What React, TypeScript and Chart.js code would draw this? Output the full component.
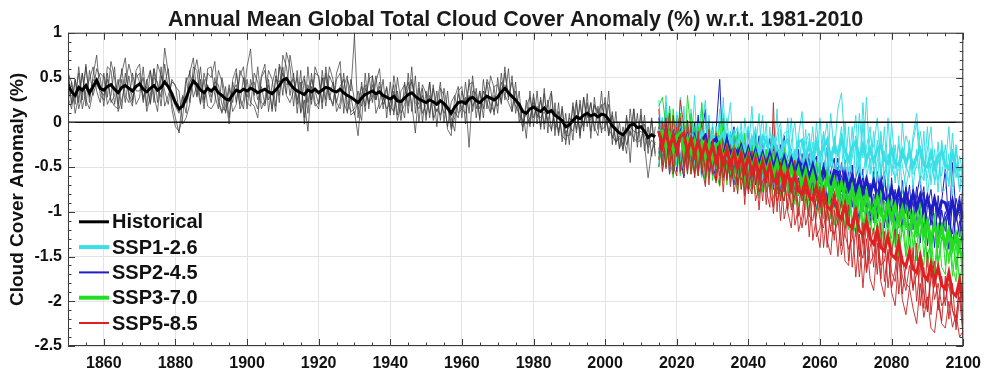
import { useEffect, useRef } from "react";
import { Chart, registerables } from "chart.js";

Chart.register(...registerables);

// Values are in hundredths of a percent (cloud cover anomaly, %, x100)
const HIST_START = 1850;
const SSP_START = 2015;
const X_TICKS = [1860, 1880, 1900, 1920, 1940, 1960, 1980, 2000, 2020, 2040, 2060, 2080, 2100];
const Y_TICKS = [-2.5, -2, -1.5, -1, -0.5, 0, 0.5, 1];
const TITLE = "Annual Mean Global Total Cloud Cover Anomaly (%) w.r.t. 1981-2010";
const Y_TITLE = "Cloud Cover Anomaly (%)";

const HIST_MEAN = [
  42, 34, 30, 39, 36, 41, 33, 40, 47, 38,
  36, 40, 42, 37, 33, 39, 41, 38, 35, 40,
  43, 37, 34, 38, 41, 36, 39, 45, 40, 32,
  22, 15, 18, 27, 38, 46, 42, 36, 33, 38,
  35, 39, 33, 30, 26, 25, 31, 36, 34, 37,
  35, 38, 36, 33, 35, 37, 34, 32, 36, 41,
  47, 49, 43, 38, 35, 33, 31, 36, 34, 37,
  33, 36, 39, 38, 35, 34, 37, 33, 30, 28,
  25, 22, 27, 31, 33, 35, 32, 34, 30, 28,
  26, 29, 24, 23, 27, 31, 33, 29, 26, 24,
  22, 25, 23, 20, 24, 21, 16, 10, 17, 22,
  23, 21, 26, 28, 24, 22, 26, 29, 27, 25,
  28, 34, 38, 33, 29, 25, 20, 12, 10, 15,
  17, 14, 12, 16, 11, 13, 8, 5, 2, -5,
  -3, 2, 6, 4, 8, 10, 7, 9, 6, 9,
  8, 3, -4, -8, -12, -14, -9, -3, -2, -6,
  -5, -10, -17, -14, -16,
];
const HIST_A = [
  55, 45, 20, 62, 25, 65, 22, 52, 75, 30,
  25, 62, 58, 20, 42, 55, 72, 28, 18, 58,
  65, 25, 48, 22, 60, 42, 28, 83, 55, 15,
  -5, -10, 5, 45, 55, 72, 30, 62, 22, 55,
  50, 68, 22, 10, 40, 5, 48, 60, 15, 25,
  62, 82, 25, 15, 52, 65, 12, 42, 60, 22,
  75, 62, 30, 55, 10, 45, 5, 62, 20, 55,
  52, 15, 62, 30, 20, 55, 68, 10, 48, 35,
  97, 5, 45, 12, 55, 22, 45, 60, 15, 38,
  8, 52, 28, 2, 45, 18, 62, 10, 45, 0,
  35, 5, 42, -5, 38, 30, -8, -15, 28, 40,
  5, 45, 10, 52, 15, 35, 5, 48, 38, 8,
  50, 20, 62, 25, 52, 10, 35, -10, 25, -2,
  32, -2, 28, -8, 25, -10, 22, -15, 15, -25,
  10, -20, 22, -18, 28, -5, 22, -10, 18, -12,
  28, -15, 12, -25, 0, -32, 8, -45, 15, -28,
  15, -32, -5, -38, -5,
];
const HIST_B = [
  28, 15, 48, 22, 55, 18, 58, 30, 45, 55,
  50, 20, 30, 62, 12, 25, 42, 65, 48, 20,
  28, 62, 18, 58, 22, 65, 52, 35, 20, 48,
  40, 35, -2, 5, 20, 62, 58, 22, 48, 18,
  15, 22, 58, 45, 10, 38, 12, 20, 58, 48,
  22, 18, 55, 45, 15, 25, 58, 48, 18, 62,
  30, 78, 62, 18, 58, 12, 48, 10, 55, 22,
  15, 58, 25, 62, 48, 12, 22, 55, 10, 48,
  25, 18, 2, 55, 15, 52, 10, 22, 48, 5,
  45, 8, 50, 22, 5, 55, 12, 52, 0, 38,
  2, 45, 5, 35, 2, 38, 15, 5, -10, 35,
  40, -2, 48, 12, 38, 2, 48, 15, 52, 38,
  10, 55, 25, 60, 12, 45, 0, 15, -18, 35,
  -5, 35, -8, 38, -12, 32, -15, 22, -22, 10,
  -25, 22, -12, 25, -10, 32, -18, 28, -8, 35,
  -10, 35, -25, 12, -30, -15, -35, 15, -22, 10,
  -28, 8, -35, 2, -38,
];
const HIST_C = [
  62, 20, 30, 55, 15, 35, 48, 62, 35, 22,
  55, 28, 68, 50, 20, 60, 30, 22, 55, 35,
  35, 50, 12, 30, 60, 22, 62, 18, 30, 45,
  42, 12, 18, 50, 22, 52, 70, 42, 15, 60,
  62, 30, 15, 50, 28, -2, 45, 22, 52, 62,
  15, 48, 30, 62, 22, 18, 48, 12, 52, 30,
  62, 32, 75, 50, 20, 58, -2, 42, 25, 62,
  50, 22, 55, 30, 18, 48, 55, 22, 12, 28,
  8, 25, 40, 18, 48, 52, 25, 45, 28, 15,
  22, 42, 8, 35, 42, 10, 48, 28, 20, 42,
  32, 10, 38, 20, 45, 0, 35, -5, 12, 5,
  35, 20, 42, 45, 5, 35, 15, 45, 12, 40,
  42, 22, 55, 28, 45, 22, 18, 0, 10, -5,
  28, 5, 25, -2, 20, 35, -8, 12, -15, -20,
  5, 0, 25, -15, 28, 5, 22, -5, -15, 18,
  22, -15, 8, -22, -18, -30, 5, -15, 15, -20,
  8, -25, -62, -32, -22,
];
const HIST_D = [
  22, 45, 10, 30, 55, 25, 15, 35, 60, 50,
  18, 55, 22, 30, 48, 15, 55, 32, 22, 50,
  55, 22, 45, 58, 30, 12, 52, 42, 60, 22,
  5, -12, 28, 10, 58, 28, 42, 20, 55, 38,
  22, 50, 25, 12, 18, 42, 22, 55, 28, 15,
  48, 22, 18, 5, 50, 58, 25, 35, 12, 65,
  52, 30, 22, 35, 50, 10, 25, -10, 40, 18,
  22, 50, 18, 52, 42, 22, 15, 40, 52, 8,
  12, -15, 32, 42, 22, 28, 52, 15, 25, 40,
  12, 35, 2, 22, 32, 45, 20, -12, 38, 10,
  20, 45, 2, 15, 8, 22, -5, 22, 30, 10,
  15, 28, -28, 35, 32, 5, 35, 22, 10, 30,
  18, 45, 30, 22, 12, 35, 8, -5, 18, 28,
  5, 18, -5, 32, 0, -8, 15, -12, 18, -15,
  -15, 18, -8, 20, -5, 22, -10, 20, 12, -8,
  -5, 20, -18, -5, -28, -5, -25, -10, -18, -22,
  -20, -2, -25, 5, -35,
];
const HIST_E = [
  52, 22, 48, 15, 32, 62, 28, 48, 42, 35,
  30, 48, 25, 18, 15, 48, 22, 52, 25, 55,
  45, 28, 40, 20, 50, 45, 18, 65, 38, 28,
  18, 10, 30, 22, 45, 52, 28, 48, 25, 42,
  28, 45, 42, 20, 12, 25, 35, 42, 20, 50,
  28, 42, 45, 25, 40, 20, 42, 15, 48, 45,
  55, 42, 45, 48, 25, 38, 52, 22, 48, 35,
  20, 48, 50, 25, 45, 22, 40, 48, 22, 12,
  15, 35, 18, 38, 20, 42, 25, 40, 20, 30,
  18, 12, 35, 10, 20, 38, 45, 22, 15, 30,
  8, 30, 20, 12, 25, 10, 18, -8, 5, 32,
  15, 10, 30, 18, 28, 15, 35, 30, 20, 12,
  30, 38, 42, 35, 30, 18, 10, 2, -2, 5,
  22, 8, 5, 12, 2, 15, -2, -8, 2, -12,
  -5, -10, 8, -8, 0, 12, 2, 18, 10, 20,
  2, -8, -15, -22, -15, -25, -12, -5, -10, -12,
  -10, -15, -28, -20, -25,
];

// SSP1-2.6
const SSP1_MEAN = [
  -8, -22, -10, -26, -12, -28, -10, -24, -30, -14,
  -16, -30, -12, -26, -32, -14, -28, -18, -12, -30,
  -18, -33, -22, -14, -32, -36, -18, -30, -34, -16,
  -22, -36, -18, -32, -38, -24, -20, -36, -40, -22,
  -20, -37, -26, -40, -22, -38, -28, -20, -40, -26,
  -36, -20, -32, -42, -28, -22, -40, -26, -42, -30,
  -44, -30, -26, -42, -46, -30, -45, -48, -32, -46,
  -34, -49, -38, -30, -48, -50, -34, -50, -38, -33,
  -48, -52, -36, -50, -53, -48,
];
const SSP1_A = [
  25, -35, 15, -50, 5, -45, 28, -40, 0, -30,
  30, -55, -5, 25, -50, 0, -40, 15, -55, -10,
  22, -48, -5, -62, 5, -35, 18, -55, -25, 8,
  -58, -5, -50, 15, -62, -20, -45, 5, -68, -15,
  12, -55, -18, -68, 0, -45, -10, -60, 10, -35,
  15, 33, -30, -55, -5, -62, 10, -40, 28, -58,
  -10, -68, -15, -72, 5, -60, -25, -75, 0, -48,
  -62, -15, 10, -35, -65, -5, -70, -30, -78, -20,
  -50, -5, -72, -25, -62, -55,
];
const SSP1_B = [
  -45, 5, -40, 0, -52, 12, -48, -5, -58, 15,
  -50, 0, -55, -30, 8, -55, -5, -50, 10, -60,
  -10, -60, -35, 0, -62, -45, -65, -5, -58, -40,
  0, -62, -15, -72, -8, -55, 5, -65, -30, -58,
  -60, -8, -68, -22, -62, 5, -58, -28, -72, -15,
  -65, -12, -55, -5, -68, -25, -72, 0, -62, -40,
  -70, -20, -62, -5, -75, -28, -68, -15, -80, -55,
  -20, -75, -30, -70, -10, -82, -45, -65, -22, -78,
  -75, -35, -85, -28, -78, -55,
];
const SSP1_C = [
  0, -48, 30, -55, -25, -5, -60, 18, -50, -28,
  -55, -15, 20, -65, -25, -58, -5, -45, 28, -52,
  -60, -8, -55, -22, -68, -5, -50, -30, 10, -62,
  -30, -68, -45, -15, 0, -55, -75, -22, 0, -50,
  -20, -62, -42, -5, -65, -45, -12, -72, -35, -55,
  -45, -55, 0, -72, -28, 8, -58, 22, -50, -15,
  -28, 5, -55, -32, -68, 0, -52, -25, -48, -72,
  -52, -22, 0, -58, -65, -30, -5, -70, -42, -60,
  -25, -72, -12, -62, -38, -58,
];
const SSP1_D = [
  -35, 0, -45, 18, -22, -50, 2, -55, -10, -42,
  -10, -42, -62, 0, -35, -15, -52, -25, -45, 5,
  -38, -15, -5, -50, -15, -55, -30, -5, -52, -20,
  -15, -45, 0, -55, -32, -12, -10, -58, -42, -18,
  -45, -22, -12, -52, -28, -58, -25, 0, -50, -18,
  -35, -5, -48, -55, -40, -15, -50, -62, -28, -5,
  -55, -45, -10, -60, -35, -50, -62, -52, -40, -15,
  -28, -58, -50, -10, -42, -62, -35, -45, -65, -25,
  -55, -68, -30, -48, -75, -35,
];

// SSP2-4.5
const SSP2_MEAN = [
  -10, -26, -8, -28, -14, -31, -13, -30, -16, -33,
  -17, -34, -20, -15, -36, -22, -18, -35, -38, -20,
  -37, -29, -35, -27, -44, -30, -46, -32, -48, -35,
  -50, -35, -52, -38, -55, -40, -56, -42, -58, -44,
  -60, -46, -62, -48, -64, -67, -52, -66, -69, -54,
  -56, -72, -58, -74, -60, -76, -62, -78, -64, -80,
  -66, -82, -68, -85, -88, -74, -90, -76, -92, -78,
  -94, -80, -96, -82, -98, -84, -100, -86, -102, -88,
  -90, -104, -88, -106, -92, -108,
];
const SSP2_A = [
  5, -45, 22, -35, -10, -55, 10, -60, -5, -50,
  0, -55, -15, 15, -62, -35, -8, 48, -48, -12,
  -58, -10, -70, -25, -75, -5, -62, -42, -15, -78,
  -30, -72, -20, -80, -40, -15, -78, -45, -88, -30,
  -72, -35, -88, -48, -38, -95, -55, -28, -92, -65,
  -40, -95, -55, -102, -48, -85, -110, -52, -105, -68,
  -112, -55, -90, -118, -62, -100, -125, -72, -115, -85,
  -128, -70, -108, -135, -78, -120, -92, -140, -82, -125,
  -105, -142, -88, -135, -110, -148,
];
const SSP2_B = [
  -35, 5, -50, -5, -42, 8, -55, -10, -48, -5,
  -55, -5, -48, -20, 2, -60, -25, -52, -12, -62,
  -10, -55, -18, -65, -35, -58, -20, -70, -45, -22,
  -68, -30, -75, -38, -25, -78, -45, -72, -32, -82,
  -40, -80, -35, -88, -65, -45, -82, -92, -55, -40,
  -88, -45, -80, -55, -95, -62, -48, -100, -58, -105,
  -50, -108, -68, -55, -112, -72, -82, -118, -65, -102,
  -70, -120, -82, -60, -128, -95, -75, -112, -130, -88,
  -52, -120, -45, -102, -128, -62,
];
const SSP2_C = [
  -50, -10, 8, -58, -25, 0, -38, -62, 2, -48,
  -35, 8, -60, -28, -50, -5, -55, -15, -65, -30,
  -45, -70, -12, -48, -22, -75, -52, -25, -82, -55,
  -42, -18, -62, -28, -78, -55, -38, -30, -75, -62,
  -85, -55, -40, -70, -98, -72, -45, -88, -55, -95,
  -65, -78, -42, -92, -75, -108, -55, -85, -92, -112,
  -80, -98, -52, -105, -118, -62, -112, -85, -122, -70,
  -108, -88, -128, -95, -72, -138, -105, -80, -140, -98,
  -122, -88, -142, -102, -82, -132,
];
const SSP2_D = [
  -5, -38, -20, 5, -58, -35, -8, -28, -52, -18,
  -10, -42, 0, -52, -18, -45, -65, -30, -5, -55,
  -22, -5, -48, -18, -58, -28, -68, -12, -62, -38,
  -62, -52, -30, -72, -42, -68, -50, -78, -45, -60,
  -35, -68, -75, -38, -82, -88, -62, -50, -85, -72,
  -50, -60, -88, -65, -48, -82, -75, -62, -95, -70,
  -95, -78, -105, -62, -88, -98, -75, -110, -100, -85,
  -90, -105, -72, -112, -118, -80, -115, -88, -100, -118,
  -100, -112, -125, -85, -105, -130,
];

// SSP3-7.0
const SSP3_MEAN = [
  -12, -10, -28, -14, -31, -16, -12, -32, -18, -34,
  -20, -36, -22, -39, -24, -41, -26, -22, -42, -28,
  -44, -30, -47, -32, -49, -35, -52, -37, -54, -40,
  -56, -42, -59, -44, -62, -47, -64, -50, -67, -52,
  -69, -54, -72, -57, -75, -60, -78, -62, -81, -65,
  -83, -68, -86, -90, -73, -92, -76, -95, -79, -98,
  -101, -84, -103, -107, -90, -109, -93, -112, -96, -115,
  -119, -102, -122, -106, -126, -111, -130, -114, -134, -118,
  -137, -121, -141, -126, -144, -150,
];
const SSP3_A = [
  18, 28, -5, -52, 15, -30, -58, 0, -45, 10,
  -15, -60, 22, -45, -5, -65, -20, -52, 5, -70,
  -22, -65, -10, -75, -30, -55, -80, -18, -70, -35,
  -78, -35, -70, -25, -88, -45, -75, -95, -38, -82,
  -50, -98, -55, -85, -105, -48, -92, -110, -58, -98,
  -115, -62, -102, -120, -72, -128, -82, -135, -95, -112,
  -125, -78, -138, -105, -88, -145, -110, -152, -118, -92,
  -145, -105, -155, -125, -100, -162, -128, -170, -135, -112,
  -160, -122, -172, -135, -180, -148,
];
const SSP3_B = [
  -40, 0, -48, 8, -55, -12, 5, -50, -15, -58,
  -38, -5, -55, -15, -62, -10, -50, 0, -65, -22,
  -60, -15, -30, -58, -12, -70, -25, -65, -35, -78,
  -30, -70, -42, -80, -62, -28, -82, -45, -92, -42,
  -88, -38, -95, -72, -45, -102, -75, -52, -108, -80,
  -62, -105, -70, -82, -115, -85, -65, -120, -95, -128,
  -82, -118, -75, -132, -102, -85, -140, -108, -92, -145,
  -92, -140, -115, -88, -150, -118, -155, -102, -162, -130,
  -110, -158, -128, -165, -118, -175,
];
const SSP3_C = [
  0, -55, -30, 18, -45, -8, 10, -58, 30, -12,
  -62, -20, -42, -68, -25, -8, -55, -72, -15, -50,
  -28, -55, -78, -20, -68, -35, -58, -22, -85, -45,
  -62, -75, -32, -55, -80, -88, -45, -35, -68, -95,
  -58, -78, -105, -48, -88, -72, -108, -58, -95, -115,
  -88, -80, -118, -65, -108, -125, -70, -115, -82, -98,
  -112, -98, -82, -140, -118, -130, -88, -142, -115, -150,
  -128, -155, -95, -145, -160, -108, -148, -168, -112, -162,
  -170, -115, -160, -178, -130, -190,
];
const SSP3_D = [
  -50, -18, -5, -38, -62, -25, -52, -10, 0, -55,
  -5, -48, -28, -55, -18, -58, -10, -42, -62, -15,
  -70, -38, -60, -20, -75, -32, -65, -80, -40, -58,
  -40, -52, -85, -68, -42, -62, -55, -72, -82, -40,
  -78, -55, -68, -85, -80, -60, -92, -98, -78, -62,
  -85, -95, -68, -105, -72, -98, -112, -80, -90, -115,
  -100, -122, -108, -88, -118, -100, -115, -130, -102, -120,
  -118, -125, -140, -105, -130, -148, -135, -115, -155, -128,
  -140, -150, -128, -158, -138, -165,
];

// SSP5-8.5
const SSP5_MEAN = [
  -10, -27, -9, -30, -14, -32, -16, -12, -34, -18,
  -36, -20, -39, -23, -41, -25, -44, -28, -46, -30,
  -48, -33, -51, -35, -54, -38, -57, -41, -60, -44,
  -62, -47, -65, -68, -52, -71, -55, -74, -58, -77,
  -80, -64, -83, -87, -72, -91, -76, -94, -98, -83,
  -102, -108, -92, -114, -118, -100, -121, -126, -110, -130,
  -136, -120, -140, -144, -127, -148, -152, -134, -156, -161,
  -144, -164, -168, -150, -171, -176, -158, -178, -162, -182,
  -186, -168, -190, -194, -176, -200,
];
const SSP5_A = [
  15, -48, -10, -58, 8, -38, 25, -5, -55, 0,
  -62, -10, -58, -20, -70, -12, -65, -30, -78, -22,
  -72, -25, -80, -35, -92, -28, -75, -48, -98, -40,
  -92, -42, -102, -55, -110, -58, -100, -118, -60, -122,
  -105, -62, -128, -80, -118, -140, -85, -132, -148, -98,
  -150, -100, -155, -160, -108, -173, -125, -185, -130, -175,
  -188, -135, -178, -195, -145, -190, -205, -150, -198, -215,
  -185, -208, -225, -180, -218, -195, -230, -235, -200, -225,
  -230, -200, -229, -215, -240, -233,
];
const SSP5_B = [
  -42, 0, -52, -8, -48, -60, 5, -50, -15, -58,
  -18, -55, 0, -62, -25, -58, -12, -70, -18, -65,
  -30, -78, -55, -22, -82, -60, -35, -88, -70, -32,
  -75, -95, 22, -100, -45, -108, -88, -62, -115, -95,
  -118, -85, -62, -132, -105, -72, -140, -98, -122, -80,
  -108, -148, -122, -90, -162, -118, -173, -128, -168, -140,
  -118, -170, -112, -178, -142, -185, -165, -125, -192, -160,
  -145, -188, -135, -205, -162, -212, -175, -155, -210, -172,
  -205, -165, -210, -225, -178, -238,
];
const SSP5_C = [
  -5, -55, -25, 10, -58, -15, -48, -60, 2, -38,
  -58, -15, -50, -72, -8, -52, -68, -18, -62, -42,
  -62, -48, -28, -75, -50, -80, -32, -68, -50, -88,
  -40, -78, -95, -45, -88, -55, -98, -70, -42, -105,
  -62, -115, -98, -55, -128, -118, -75, -140, -95, -132,
  -85, -138, -82, -155, -110, -92, -150, -112, -165, -118,
  -162, -115, -175, -122, -185, -148, -120, -192, -150, -180,
  -185, -140, -200, -158, -208, -145, -215, -172, -195, -222,
  -172, -220, -180, -232, -195, -242,
];
const SSP5_D = [
  -30, -15, 5, -48, -32, -5, -55, -25, -58, -10,
  -38, -60, -22, -12, -55, -42, -25, -60, -35, -62,
  -22, -58, -68, -55, -30, -70, -80, -35, -78, -65,
  -60, -40, -72, -88, -75, -88, -52, -98, -82, -65,
  -88, -75, -105, -110, -82, -108, -118, -92, -120, -125,
  -110, -88, -125, -142, -130, -98, -140, -152, -115, -158,
  -148, -128, -160, -155, -125, -168, -178, -138, -172, -188,
  -160, -185, -170, -145, -192, -210, -165, -198, -180, -205,
  -198, -180, -210, -218, -185, -225,
];

const ZERO_LINE = [0, 0];

const FONT = '"Liberation Sans", Arial, Helvetica, sans-serif';

const COLORS = {
  hist: "#000000",
  histMember: "rgba(60,60,60,0.72)",
  ssp1: "#3adfe6",
  ssp2: "#1e1ec4",
  ssp3: "#22dd22",
  ssp5: "#e02020",
  ssp5Member: "rgba(200,35,35,0.9)",
};

const LEGEND_ITEMS = [
  { label: "Historical", color: COLORS.hist, width: 3 },
  { label: "SSP1-2.6", color: COLORS.ssp1, width: 4 },
  { label: "SSP2-4.5", color: COLORS.ssp2, width: 2 },
  { label: "SSP3-7.0", color: COLORS.ssp3, width: 4 },
  { label: "SSP5-8.5", color: COLORS.ssp5, width: 2 },
];

function pts(start: number, vals: number[]) {
  return vals.map((v, i) => ({ x: start + i, y: v / 100 }));
}

function line(data: any[], color: string, width: number, order: number) {
  return {
    data,
    borderColor: color,
    backgroundColor: color,
    borderWidth: width,
    pointRadius: 0,
    tension: 0,
    fill: false,
    order,
  };
}

const framePlugin = {
  id: "frameTicks",
  afterDatasetsDraw(chart: any) {
    const { ctx, chartArea } = chart;
    const { left, right, top, bottom } = chartArea;
    const xs = chart.scales.x;
    const ys = chart.scales.y;
    ctx.save();
    ctx.strokeStyle = "#3a3a3a";
    ctx.lineWidth = 1;
    ctx.strokeRect(left + 0.5, top + 0.5, right - left - 1, bottom - top - 1);
    ctx.beginPath();
    for (let yr = 1850; yr <= 2100; yr += 5) {
      const px = Math.round(xs.getPixelForValue(yr)) + 0.5;
      const len = yr % 20 === 0 ? 7 : 3.5;
      ctx.moveTo(px, bottom);
      ctx.lineTo(px, bottom - len);
      ctx.moveTo(px, top);
      ctx.lineTo(px, top + len);
    }
    for (let k = -25; k <= 10; k++) {
      const py = Math.round(ys.getPixelForValue(k / 10)) + 0.5;
      const len = k % 5 === 0 ? 7 : 3.5;
      ctx.moveTo(left, py);
      ctx.lineTo(left + len, py);
      ctx.moveTo(right, py);
      ctx.lineTo(right - len, py);
    }
    ctx.stroke();
    ctx.restore();
  },
  afterDraw(chart: any) {
    const { ctx, chartArea } = chart;
    ctx.save();
    ctx.font = `bold 20px ${FONT}`;
    ctx.textBaseline = "middle";
    ctx.textAlign = "left";
    LEGEND_ITEMS.forEach((it, i) => {
      const y = chartArea.top + 189 + i * 25.3;
      const x0 = chartArea.left + 11;
      ctx.strokeStyle = it.color;
      ctx.lineWidth = it.width;
      ctx.beginPath();
      ctx.moveTo(x0, y);
      ctx.lineTo(x0 + 30, y);
      ctx.stroke();
      ctx.fillStyle = "#111";
      ctx.fillText(it.label, x0 + 33, y + 1);
    });
    ctx.restore();
  },
};

export default function App() {
  const canvasRef = useRef<HTMLCanvasElement | null>(null);

  useEffect(() => {
    document.body.style.margin = "0";
    const canvas = canvasRef.current;
    if (!canvas) return;

    const datasets: any[] = [
      line(pts(HIST_START, HIST_A), COLORS.histMember, 1, 100),
      line(pts(HIST_START, HIST_B), COLORS.histMember, 1, 100),
      line(pts(HIST_START, HIST_C), COLORS.histMember, 1, 100),
      line(pts(HIST_START, HIST_D), COLORS.histMember, 1, 100),
      line(pts(HIST_START, HIST_E), COLORS.histMember, 1, 100),
      line(pts(SSP_START, SSP2_A), COLORS.ssp2, 1, 90),
      line(pts(SSP_START, SSP2_B), COLORS.ssp2, 1, 90),
      line(pts(SSP_START, SSP2_C), COLORS.ssp2, 1, 90),
      line(pts(SSP_START, SSP2_D), COLORS.ssp2, 1, 90),
      line(pts(SSP_START, SSP1_A), COLORS.ssp1, 1, 85),
      line(pts(SSP_START, SSP1_B), COLORS.ssp1, 1, 85),
      line(pts(SSP_START, SSP1_C), COLORS.ssp1, 1, 85),
      line(pts(SSP_START, SSP1_D), COLORS.ssp1, 1, 85),
      line(pts(SSP_START, SSP3_A), COLORS.ssp3, 1, 80),
      line(pts(SSP_START, SSP3_B), COLORS.ssp3, 1, 80),
      line(pts(SSP_START, SSP3_C), COLORS.ssp3, 1, 80),
      line(pts(SSP_START, SSP3_D), COLORS.ssp3, 1, 80),
      line(pts(SSP_START, SSP5_A), COLORS.ssp5Member, 1, 75),
      line(pts(SSP_START, SSP5_B), COLORS.ssp5Member, 1, 75),
      line(pts(SSP_START, SSP5_C), COLORS.ssp5Member, 1, 75),
      line(pts(SSP_START, SSP5_D), COLORS.ssp5Member, 1, 75),
      line(pts(HIST_START, HIST_MEAN), COLORS.hist, 3, 50),
      line(pts(SSP_START, SSP1_MEAN), COLORS.ssp1, 3, 45),
      line(pts(SSP_START, SSP2_MEAN), COLORS.ssp2, 3, 40),
      line(pts(SSP_START, SSP3_MEAN), COLORS.ssp3, 3, 35),
      line(pts(SSP_START, SSP5_MEAN), COLORS.ssp5, 3, 30),
      line([{ x: 1850, y: ZERO_LINE[0] }, { x: 2100, y: ZERO_LINE[1] }], "#111111", 1.6, 1),
    ];

    const chart = new Chart(canvas, {
      type: "line",
      data: { datasets },
      options: {
        animation: false,
        responsive: false,
        devicePixelRatio: 1,
        layout: { padding: { left: 0, right: 22, top: 0, bottom: 0 } },
        plugins: {
          legend: { display: false },
          tooltip: { enabled: false },
          title: {
            display: true,
            text: TITLE,
            fullSize: false,
            color: "#1a1a1a",
            font: { family: FONT, size: 21.5, weight: "bold" },
            padding: { top: 7, bottom: 0 },
          },
        },
        scales: {
          x: {
            type: "linear",
            min: 1850,
            max: 2100,
            afterBuildTicks: (scale: any) => {
              scale.ticks = X_TICKS.map((v) => ({ value: v }));
            },
            afterFit: (scale: any) => {
              scale.height = 30;
            },
            grid: { color: "#e3e3e3", drawTicks: false, lineWidth: 1 },
            border: { display: false },
            ticks: {
              color: "#111",
              padding: 8,
              maxRotation: 0,
              autoSkip: false,
              font: { family: FONT, size: 16, weight: "bold" },
              callback: (v: any) => String(v),
            },
          },
          y: {
            type: "linear",
            min: -2.5,
            max: 1,
            afterBuildTicks: (scale: any) => {
              scale.ticks = Y_TICKS.map((v) => ({ value: v }));
            },
            afterFit: (scale: any) => {
              scale.width = 68;
            },
            grid: { color: "#e3e3e3", drawTicks: false, lineWidth: 1 },
            border: { display: false },
            title: {
              display: true,
              text: Y_TITLE,
              color: "#111",
              font: { family: FONT, size: 19, weight: "bold" },
              padding: { top: 6, bottom: 0 },
            },
            ticks: {
              color: "#111",
              padding: 6,
              autoSkip: false,
              font: { family: FONT, size: 16, weight: "bold" },
              callback: (v: any) => String(v),
            },
          },
        },
      },
      plugins: [framePlugin],
    } as any);

    return () => chart.destroy();
  }, []);

  return (
    <div style={{ width: 989, height: 376, background: "#fff" }}>
      <canvas ref={canvasRef} width={989} height={376} />
    </div>
  );
}
